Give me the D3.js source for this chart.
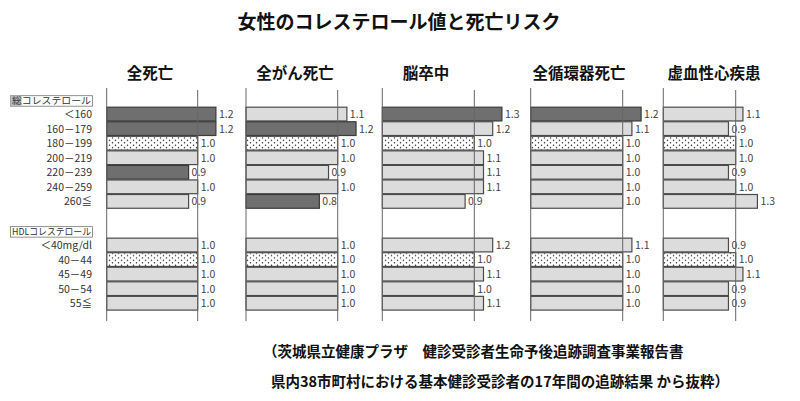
<!DOCTYPE html>
<html><head><meta charset="utf-8">
<script src="https://cdn.jsdelivr.net/npm/d3@7"></script>
<style>body{margin:0;background:#fff}svg{display:block}</style>
</head><body>
<svg id="c" width="800" height="401"></svg>
<script>
// ---- data ----
const chartTitle = "女性のコレステロール値と死亡リスク";
const outcomes = ["全死亡", "全がん死亡", "脳卒中", "全循環器死亡", "虚血性心疾患"];
const cholHeader = "総コレステロール";
const hdlHeader = "HDLコレステロール";
const cholCats = ["＜160", "160－179", "180－199", "200－219", "220－239", "240－259", "260≦"];
const hdlCats = ["＜40mg/dl", "40－44", "45－49", "50－54", "55≦"];
const cholRef = 2;   // 180-199 reference group
const hdlRef = 1;    // 40-44 reference group
const cholValues = [
  [1.2, 1.2, 1.0, 1.0, 0.9, 1.0, 0.9],
  [1.1, 1.2, 1.0, 1.0, 0.9, 1.0, 0.8],
  [1.3, 1.2, 1.0, 1.1, 1.1, 1.1, 0.9],
  [1.2, 1.1, 1.0, 1.0, 1.0, 1.0, 1.0],
  [1.1, 0.9, 1.0, 1.0, 0.9, 1.0, 1.3]
];
const cholSignificant = [
  [1, 1, 0, 0, 1, 0, 0],
  [0, 1, 0, 0, 0, 0, 1],
  [1, 0, 0, 0, 0, 0, 0],
  [1, 0, 0, 0, 0, 0, 0],
  [0, 0, 0, 0, 0, 0, 0]
];
const hdlValues = [
  [1.0, 1.0, 1.0, 1.0, 1.0],
  [1.0, 1.0, 1.0, 1.0, 1.0],
  [1.2, 1.0, 1.1, 1.0, 1.1],
  [1.1, 1.0, 1.0, 1.0, 1.0],
  [0.9, 1.0, 1.1, 0.9, 0.9]
];
const hdlSignificant = [
  [0, 0, 0, 0, 0],
  [0, 0, 0, 0, 0],
  [0, 0, 0, 0, 0],
  [0, 0, 0, 0, 0],
  [0, 0, 0, 0, 0]
];
const sourceLines = [
  "（茨城県立健康プラザ　健診受診者生命予後追跡調査事業報告書",
  "県内38市町村における基本健診受診者の17年間の追跡結果 から抜粋）"
];

// ---- layout ----
const panelLeft = [106.7, 246, 382.3, 530.7, 663.3];
const panelUnit = [91, 91.7, 92, 92, 72.4];
const titleCx = [150, 295, 426, 579, 714];
const FONT = "'Noto Sans CJK JP','Noto Sans',sans-serif";

const svg = d3.select("#c");
const defs = svg.append("defs");
const pat = defs.append("pattern").attr("id", "dots").attr("patternUnits", "userSpaceOnUse")
  .attr("width", 6).attr("height", 4.8);
pat.append("rect").attr("width", 6).attr("height", 4.8).attr("fill", "#fff");
pat.append("circle").attr("cx", 1.5).attr("cy", 1.2).attr("r", 0.75).attr("fill", "#222");
pat.append("circle").attr("cx", 4.5).attr("cy", 3.6).attr("r", 0.75).attr("fill", "#222");

// rows
const rowKeys = ["h1", ...cholCats.map((d, i) => "c" + i), "gap", "h2", ...hdlCats.map((d, i) => "d" + i)];
const y = d3.scaleBand().domain(rowKeys).range([92.15, 92.15 + rowKeys.length * 14.55]).padding(0);

// title
svg.append("text").attr("x", 399).attr("y", 29).attr("text-anchor", "middle")
  .attr("font-family", FONT).attr("font-weight", "bold").attr("font-size", 19).attr("fill", "#111")
  .text(chartTitle);

// left labels
const lab = svg.append("g").attr("font-family", FONT).attr("font-size", 10.5).attr("fill", "#333");
function header(key, text) {
  const yb = y(key) + y.bandwidth();
  lab.append("rect").attr("x", 10.5).attr("y", yb - 11).attr("width", 82).attr("height", 10.5)
    .attr("fill", "none").attr("stroke", "#777").attr("stroke-width", 0.8);
  lab.append("text").attr("x", 12).attr("y", yb - 2.6).attr("font-size", 9.5).attr("textLength", 79)
    .attr("lengthAdjust", "spacingAndGlyphs").text(text);
}
header("h1", cholHeader);
lab.insert("rect", "text").attr("x", 10.5).attr("y", y("h1") + y.bandwidth() - 11).attr("width", 11).attr("height", 10.5).attr("fill", "#bbb");
header("h2", hdlHeader);
cholCats.forEach((c, i) => lab.append("text").attr("x", 92).attr("y", y("c" + i) + y.bandwidth() / 2 + 4.2)
  .attr("text-anchor", "end").text(c));
hdlCats.forEach((c, i) => lab.append("text").attr("x", 92).attr("y", y("d" + i) + y.bandwidth() / 2 + 4.2)
  .attr("text-anchor", "end").text(c));

// panels
outcomes.forEach((name, p) => {
  const x = d3.scaleLinear().domain([0, 1]).range([panelLeft[p], panelLeft[p] + panelUnit[p]]);
  const g = svg.append("g");
  g.append("text").attr("x", titleCx[p]).attr("y", 79).attr("text-anchor", "middle")
    .attr("font-family", FONT).attr("font-weight", "bold").attr("font-size", 15.5).attr("fill", "#111").text(name);
  const rows = [];
  cholValues[p].forEach((v, i) => rows.push({ key: "c" + i, v, kind: i === cholRef ? "ref" : (cholSignificant[p][i] ? "sig" : "n") }));
  hdlValues[p].forEach((v, i) => rows.push({ key: "d" + i, v, kind: i === hdlRef ? "ref" : (hdlSignificant[p][i] ? "sig" : "n") }));
  g.selectAll("rect.bar").data(rows).join("rect").attr("class", "bar")
    .attr("x", x(0)).attr("y", d => y(d.key) + 0.5)
    .attr("width", d => x(d.v) - x(0)).attr("height", y.bandwidth() - 0.8)
    .attr("fill", d => d.kind === "sig" ? "#6f6f6f" : d.kind === "ref" ? "url(#dots)" : "#dcdcdc")
    .attr("stroke", d => d.kind === "sig" ? "#3a3a3a" : "#4a4a4a").attr("stroke-width", 1.2);
  g.selectAll("text.val").data(rows).join("text").attr("class", "val")
    .attr("x", d => x(d.v) + 3).attr("y", d => y(d.key) + y.bandwidth() / 2 + 4)
    .attr("font-family", FONT).attr("font-size", 10.5).attr("fill", "#444")
    .text(d => d3.format(".1f")(d.v));
  g.append("line").attr("x1", x(0)).attr("x2", x(0)).attr("y1", 88).attr("y2", 321)
    .attr("stroke", "#666").attr("stroke-width", 1);
  g.append("line").attr("x1", x(1)).attr("x2", x(1)).attr("y1", 90).attr("y2", 321)
    .attr("stroke", "#666").attr("stroke-width", 1);
});

// source note
const src = svg.append("g").attr("font-family", FONT).attr("font-weight", "bold").attr("font-size", 14.5).attr("fill", "#111");
src.append("text").attr("x", 263).attr("y", 357).text(sourceLines[0]);
src.append("text").attr("x", 271).attr("y", 387).text(sourceLines[1]);
</script>
</body></html>
